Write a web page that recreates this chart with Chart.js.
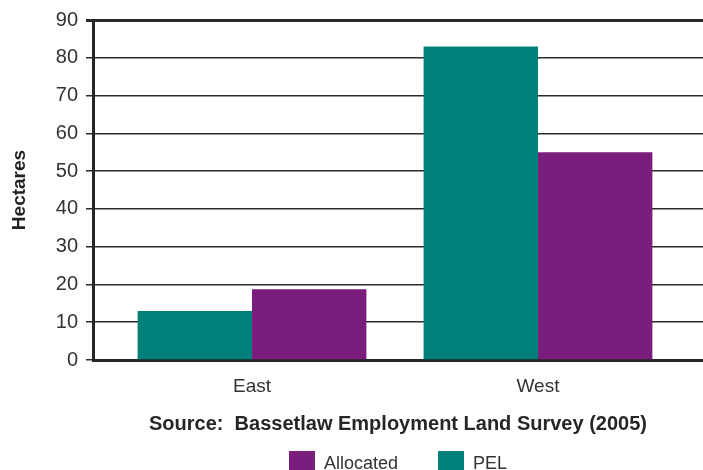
<!DOCTYPE html>
<html>
<head>
<meta charset="utf-8">
<script src="https://cdn.jsdelivr.net/npm/chart.js@4"></script>
<style>
    html, body { margin: 0; padding: 0; background: #ffffff; }
    #wrap { width: 703px; height: 470px; }
</style>
</head>
<body>
<div id="wrap"><canvas id="land-chart" width="703" height="470"></canvas></div>
<script>
// Employment land by area, hectares
const areas = ['East', 'West'];
const pelValues = [13, 83];
const allocatedValues = [18.7, 55];
const seriesNames = ['PEL', 'Allocated'];
const seriesColors = ['#00807A', '#7A1E7D'];
const yAxisTitle = 'Hectares';
const sourceNote = 'Source:  Bassetlaw Employment Land Survey (2005)';

const narrow = "'Liberation Sans Narrow', 'Liberation Sans', Arial, sans-serif";
const regular = "'Liberation Sans', Arial, sans-serif";

// linear x scale so the two groups can sit where we want them
const toPoints = values => values.map((v, i) => ({ x: i, y: v }));

const ctx = document.getElementById('land-chart').getContext('2d');
const chart = new Chart(ctx, {
    type: 'bar',
    data: {
        datasets: [
            {
                label: seriesNames[0],
                data: toPoints(pelValues),
                backgroundColor: seriesColors[0],
                borderWidth: 0
            },
            {
                label: seriesNames[1],
                data: toPoints(allocatedValues),
                backgroundColor: seriesColors[1],
                borderWidth: 0
            }
        ]
    },
    options: {
        responsive: false,
        animation: false,
        devicePixelRatio: 1,
        categoryPercentage: 0.8,
        barPercentage: 1.0,
        layout: {
            // legend sits partly below the bottom edge
            padding: { top: 14, right: 0, bottom: -17, left: 0 }
        },
        scales: {
            x: {
                type: 'linear',
                offset: false,
                min: -0.556,
                max: 1.577,
                afterBuildTicks: scale => {
                    scale.ticks = areas.map((_, i) => ({ value: i }));
                },
                afterFit: scale => { scale.height = 51; },
                ticks: {
                    callback: (value, index) => areas[index],
                    color: '#333333',
                    font: { family: narrow, size: 19 },
                    padding: 7,
                    maxRotation: 0,
                    autoSkip: false
                },
                grid: { display: false, offset: false },
                border: { display: true, color: '#262626', width: 3 },
                title: {
                    display: true,
                    text: sourceNote,
                    color: '#262626',
                    font: { family: narrow, size: 20, weight: 'bold' },
                    padding: { top: 0, bottom: -25 }
                }
            },
            y: {
                min: 0,
                max: 90,
                afterFit: scale => { scale.width = 93; },
                ticks: {
                    stepSize: 10,
                    color: '#333333',
                    font: { family: regular, size: 20 },
                    padding: 8
                },
                grid: {
                    color: '#2a2a2a',
                    lineWidth: c => (c.tick && c.tick.value === 90 ? 3 : 1.5),
                    tickLength: 7
                },
                border: { display: true, color: '#262626', width: 3 },
                title: {
                    display: true,
                    text: yAxisTitle,
                    color: '#222222',
                    font: { family: regular, size: 19, weight: 'bold' },
                    padding: { top: 8, bottom: 0 }
                }
            }
        },
        plugins: {
            legend: {
                position: 'bottom',
                fullSize: false,
                labels: {
                    boxWidth: 26,
                    boxHeight: 26,
                    padding: 40,
                    color: '#333333',
                    font: { family: narrow, size: 18 },
                    // Allocated listed before PEL
                    sort: (a, b) => b.datasetIndex - a.datasetIndex
                }
            },
            tooltip: { enabled: false }
        }
    }
});
</script>
</body>
</html>
